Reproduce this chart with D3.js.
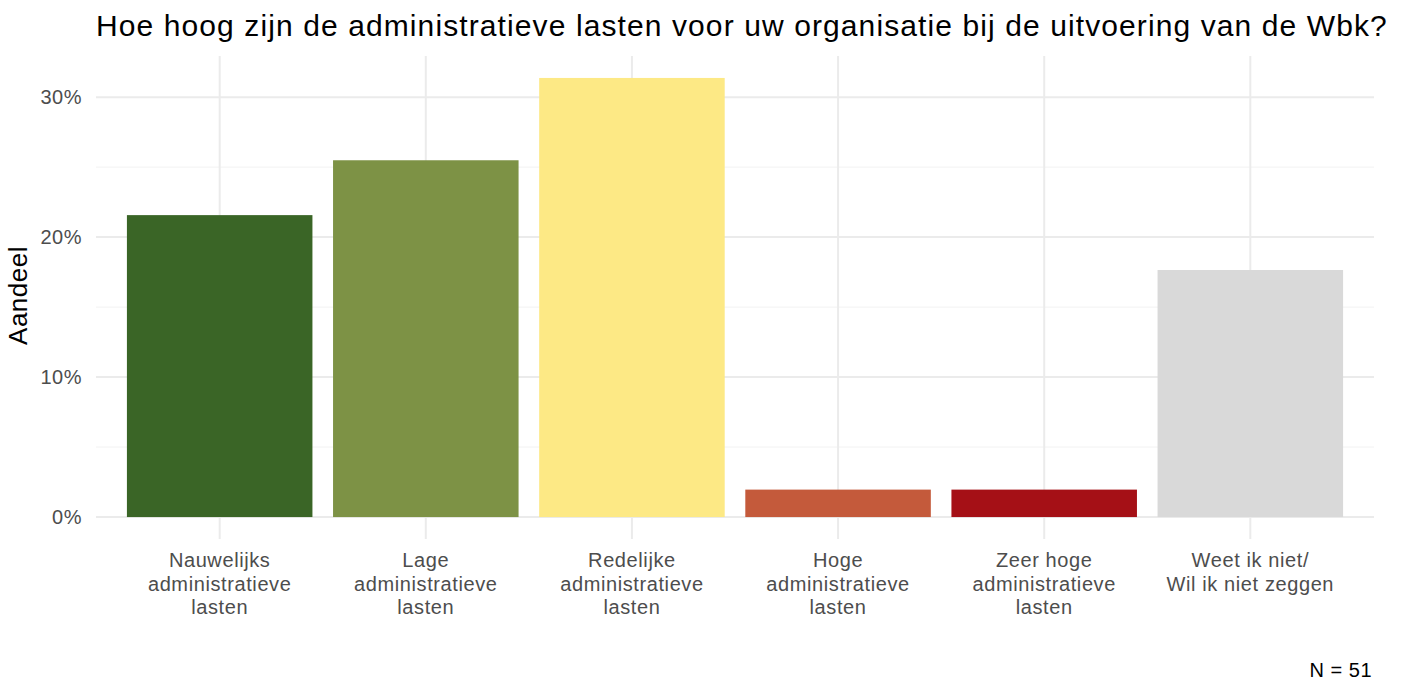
<!DOCTYPE html>
<html>
<head>
<meta charset="utf-8">
<script src="https://cdn.jsdelivr.net/npm/d3@7"></script>
<style>
  body { margin: 0; background: #fff; }
  text { font-family: "Liberation Sans", Arial, sans-serif; }
</style>
</head>
<body>
<div id="chart"></div>
<script>
// categories and shares (N = 51)
let categories = [
  ["Nauwelijks", "administratieve", "lasten"],
  ["Lage", "administratieve", "lasten"],
  ["Redelijke", "administratieve", "lasten"],
  ["Hoge", "administratieve", "lasten"],
  ["Zeer hoge", "administratieve", "lasten"],
  ["Weet ik niet/", "Wil ik niet zeggen"]
];
let shares = [0.2157, 0.2549, 0.3137, 0.0196, 0.0196, 0.1765];
let colors = ["#3a6526", "#7d9245", "#fde985", "#c45a3b", "#a51016", "#d9d9d9"];
let yTicks = [0, 0.1, 0.2, 0.3];
let yMinor = [0.05, 0.15, 0.25];

let W = 1404, H = 682;
let margin = {top: 56, right: 30, bottom: 143, left: 96};
let width = W - margin.left - margin.right;
let height = H - margin.top - margin.bottom;

let svg = d3.select("#chart")
  .append("svg")
    .attr("width", W)
    .attr("height", H);

let g = svg.append("g")
  .attr("transform", "translate(" + margin.left + "," + margin.top + ")");

let keys = categories.map((c, i) => "c" + i);

// ggplot-like discrete x: bars 0.9 wide, 0.6 expansion each side
let x = d3.scaleBand()
  .domain(keys)
  .range([0, width])
  .paddingInner(0.1)
  .paddingOuter(0.15);

let maxVal = d3.max(shares);
let pad = maxVal * 0.05;
let y = d3.scaleLinear()
  .domain([-pad, maxVal + pad])
  .range([height, 0]);

// gridlines
g.selectAll(".minor")
  .data(yMinor)
  .enter().append("line")
    .attr("x1", 0).attr("x2", width)
    .attr("y1", d => y(d)).attr("y2", d => y(d))
    .attr("stroke", "#f2f2f2").attr("stroke-width", 1);

g.selectAll(".major")
  .data(yTicks)
  .enter().append("line")
    .attr("x1", 0).attr("x2", width)
    .attr("y1", d => y(d)).attr("y2", d => y(d))
    .attr("stroke", "#ebebeb").attr("stroke-width", 2);

g.selectAll(".vgrid")
  .data(keys)
  .enter().append("line")
    .attr("x1", d => x(d) + x.bandwidth() / 2)
    .attr("x2", d => x(d) + x.bandwidth() / 2)
    .attr("y1", 0).attr("y2", height)
    .attr("stroke", "#ebebeb").attr("stroke-width", 2);

// bars
g.selectAll("rect")
  .data(shares)
  .enter().append("rect")
    .attr("x", (d, i) => x(keys[i]))
    .attr("width", x.bandwidth())
    .attr("y", d => y(d))
    .attr("height", d => y(0) - y(d))
    .attr("fill", (d, i) => colors[i]);

// y axis labels
g.selectAll(".ytick")
  .data(yTicks)
  .enter().append("text")
    .attr("x", -14)
    .attr("y", d => y(d))
    .attr("dy", "0.35em")
    .attr("text-anchor", "end")
    .attr("fill", "#4d4d4d")
    .style("font-size", "20px")
    .style("letter-spacing", "0.5px")
    .text(d => d3.format(".0%")(d));

// x axis labels
let xl = g.selectAll(".xlab")
  .data(categories)
  .enter().append("text")
    .attr("text-anchor", "middle")
    .attr("fill", "#4d4d4d")
    .style("font-size", "20px")
    .style("letter-spacing", "0.6px")
    .attr("transform", (d, i) => "translate(" + (x(keys[i]) + x.bandwidth() / 2) + "," + (height + 28) + ")");
xl.selectAll("tspan")
  .data(d => d)
  .enter().append("tspan")
    .attr("x", 0)
    .attr("dy", (d, i) => i === 0 ? 0 : "1.18em")
    .text(d => d);

// y title
svg.append("text")
  .attr("transform", "translate(27," + (margin.top + height / 2 - 2) + ") rotate(-90)")
  .attr("text-anchor", "middle")
  .attr("fill", "#000")
  .style("font-size", "26px")
  .style("letter-spacing", "0.5px")
  .text("Aandeel");

// title
svg.append("text")
  .attr("x", margin.left)
  .attr("y", 36)
  .attr("fill", "#000")
  .style("font-size", "30px")
  .style("letter-spacing", "1.1px")
  .text("Hoe hoog zijn de administratieve lasten voor uw organisatie bij de uitvoering van de Wbk?");

// caption
svg.append("text")
  .attr("x", margin.left + width - 2)
  .attr("y", 677)
  .attr("text-anchor", "end")
  .attr("fill", "#000")
  .style("font-size", "20px")
  .style("letter-spacing", "0.5px")
  .text("N = 51");
</script>
</body>
</html>
